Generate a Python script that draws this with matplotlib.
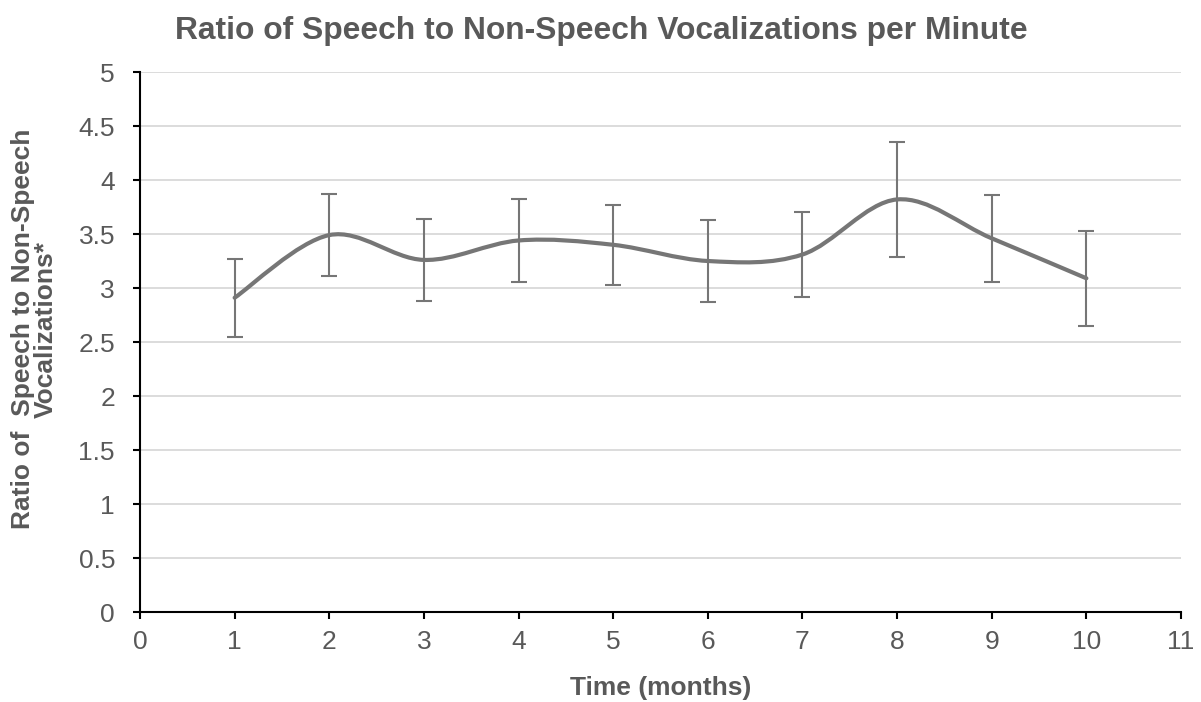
import matplotlib
import numpy as np

matplotlib.use("Agg")
import matplotlib.pyplot as plt
from matplotlib.path import Path
from matplotlib.patches import PathPatch


months = [1, 2, 3, 4, 5, 6, 7, 8, 9, 10]
ratio = [2.91, 3.49, 3.26, 3.44, 3.40, 3.25, 3.31, 3.82, 3.46, 3.09]
error = [0.36, 0.38, 0.38, 0.38, 0.37, 0.38, 0.39, 0.53, 0.40, 0.44]

TEXT_GREY = "#595959"
LINE_GREY = "#767676"


def smooth_path(x, y, tension=1 / 6):
    # Excel-style smoothed line: Catmull-Rom segments as cubic Beziers
    x = np.asarray(x, dtype=float)
    y = np.asarray(y, dtype=float)
    px = np.concatenate([[x[0]], x, [x[-1]]])
    py = np.concatenate([[y[0]], y, [y[-1]]])
    verts = [(x[0], y[0])]
    codes = [Path.MOVETO]
    for i in range(1, len(px) - 2):
        c1 = (px[i] + (px[i + 1] - px[i - 1]) * tension,
              py[i] + (py[i + 1] - py[i - 1]) * tension)
        c2 = (px[i + 1] - (px[i + 2] - px[i]) * tension,
              py[i + 1] - (py[i + 2] - py[i]) * tension)
        verts += [c1, c2, (px[i + 1], py[i + 1])]
        codes += [Path.CURVE4] * 3
    return Path(verts, codes)


plt.rcParams["font.family"] = ["Liberation Sans", "DejaVu Sans"]

fig = plt.figure(figsize=(12.01, 7.02), dpi=100)
ax = fig.add_axes([140 / 1201, 1 - 612 / 702, 1041 / 1201, 540 / 702])

ax.set_xlim(0, 11)
ax.set_ylim(0, 5)
ax.set_xticks(range(0, 12))
ax.set_yticks(np.arange(0, 5.01, 0.5))
ax.set_yticklabels([f"{v:g}" for v in np.arange(0, 5.01, 0.5)])

ax.grid(axis="y", color="#d9d9d9", linewidth=1.3)
ax.set_axisbelow(True)

ax.add_patch(PathPatch(smooth_path(months, ratio), facecolor="none",
                       edgecolor=LINE_GREY, linewidth=3.0, capstyle="round",
                       zorder=3))
ax.errorbar(months, ratio, yerr=error, fmt="none", ecolor=LINE_GREY,
            elinewidth=1.5, capsize=6, capthick=1.5, zorder=4)

for side in ("top", "right"):
    ax.spines[side].set_visible(False)
for side in ("left", "bottom"):
    ax.spines[side].set_color("black")
    ax.spines[side].set_linewidth(1.5)

ax.tick_params(direction="out", length=5, width=1.5, colors="black",
               labelcolor=TEXT_GREY, labelsize=19)
ax.tick_params(axis="x", pad=8)
ax.tick_params(axis="y", pad=13)

ax.set_xlabel("Time (months)", fontsize=19, fontweight="bold", color=TEXT_GREY,
              labelpad=16)
ax.set_ylabel("Ratio of  Speech to Non-Speech\nVocalizations*", fontsize=19,
              fontweight="bold", color=TEXT_GREY, linespacing=0.95)
ax.yaxis.set_label_coords(-0.079, 0.524)
fig.text(601 / 1201, 1 - 31 / 702, "Ratio of Speech to Non-Speech Vocalizations per Minute",
         ha="center", va="center", fontsize=22.9, fontweight="bold", color=TEXT_GREY)

fig.savefig("out.png", dpi=100, facecolor="white")
